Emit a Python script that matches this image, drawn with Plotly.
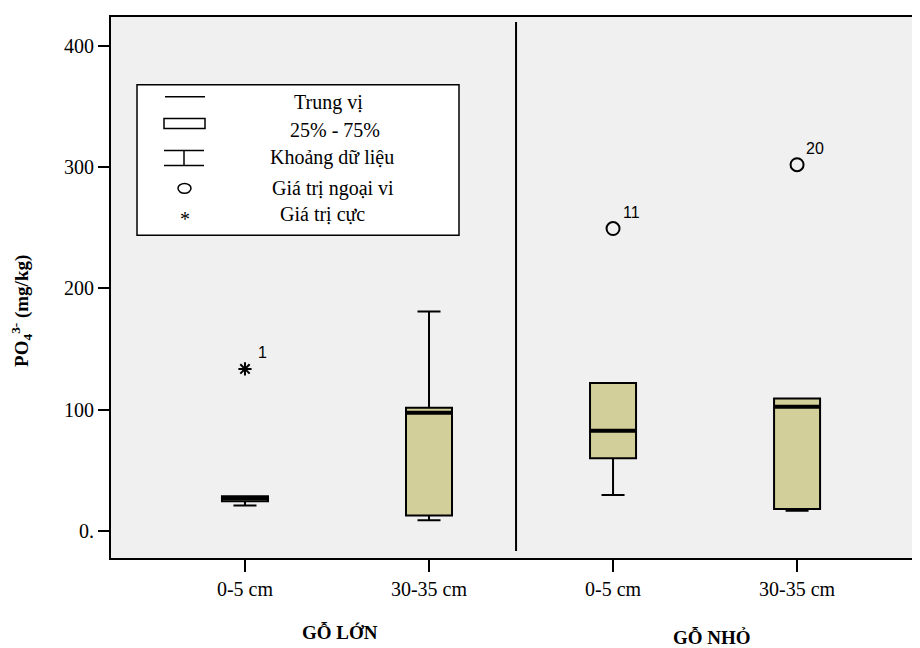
import plotly.graph_objects as go

# ---------------- data ----------------
categories = ["0-5 cm", "30-35 cm", "0-5 cm", "30-35 cm"]
groups = ["GỖ LỚN", "GỖ NHỎ"]
q1 = [24.6, 12.9, 59.9, 18.1]
median = [27.0, 97.5, 82.7, 102.4]
q3 = [28.7, 101.6, 122.1, 109.2]
lower_fence = [21.1, 9.0, 29.8, 16.7]
upper_fence = [28.7, 180.9, 122.1, 109.2]

outlier_idx = [2, 3]
outlier_val = [249.3, 301.9]
outlier_lab = ["11", "20"]

extreme_idx = [0]
extreme_val = [133.6]
extreme_lab = ["1"]

y_tickvals = [0, 100, 200, 300, 400]
y_ticktext = ["0.", "100", "200", "300", "400"]

legend_labels = ["Trung vị", "25% - 75%", "Khoảng dữ liệu", "Giá trị ngoại vi", "Giá trị cực"]

# ---------------- layout helpers ----------------
OFF = 8                      # body margin of the html page
W, H = 920, 640
PLOT_L, PLOT_R, PLOT_T, PLOT_B = 111, 920, 15, 558   # page pixels of plot area
L, T = PLOT_L - OFF, PLOT_T - OFF
R = W - (PLOT_R - OFF)
B = H - (PLOT_B - OFF)
PW, PH = PLOT_R - PLOT_L, PLOT_B - PLOT_T
BOXW = 0.25
SERIF = "Liberation Serif, Times New Roman, serif"
FILL = "#D3CF9A"


def px(xp):
    return (xp - PLOT_L) / PW


def py(yp):
    return (PLOT_B - yp) / PH


xpos = list(range(len(categories)))

fig = go.Figure()

fig.add_trace(go.Box(
    x=xpos, q1=q1, median=median, q3=q3,
    lowerfence=lower_fence, upperfence=upper_fence,
    width=BOXW, whiskerwidth=0.5,
    fillcolor=FILL, line=dict(color="black", width=2),
    boxpoints=False, showlegend=False, hoverinfo="skip",
))

# thick median lines
for i, m in zip(xpos, median):
    fig.add_trace(go.Scatter(
        x=[i - BOXW / 2, i + BOXW / 2], y=[m, m], mode="lines",
        line=dict(color="black", width=4), showlegend=False, hoverinfo="skip",
    ))

fig.add_trace(go.Scatter(
    x=outlier_idx, y=outlier_val, mode="markers",
    marker=dict(symbol="circle-open", size=13, color="black", line=dict(width=2)),
    showlegend=False,
))
fig.add_trace(go.Scatter(
    x=extreme_idx, y=extreme_val, mode="markers",
    marker=dict(symbol="asterisk-open", size=11, color="black", line=dict(width=2)),
    showlegend=False,
))

for xi, yv, lab in zip(outlier_idx + extreme_idx, outlier_val + extreme_val,
                       outlier_lab + extreme_lab):
    fig.add_annotation(x=xi, y=yv, text=lab, showarrow=False, xshift=18, yshift=16,
                       xanchor="center", yanchor="middle",
                       font=dict(family="Liberation Sans, Arial, sans-serif", size=16, color="black"))

shapes = []
# divider between groups
shapes.append(dict(type="line", xref="x", yref="paper", x0=1.473, x1=1.473,
                   y0=py(551), y1=py(20), line=dict(color="black", width=2)))

# legend box
shapes.append(dict(type="rect", xref="paper", yref="paper",
                   x0=px(137), x1=px(459), y0=py(234), y1=py(83),
                   fillcolor="white", line=dict(color="black", width=1.5)))
lk = dict(xref="paper", yref="paper", line=dict(color="black", width=1.5))
shapes.append(dict(type="line", x0=px(165), x1=px(205), y0=py(95), y1=py(95), **lk))
shapes.append(dict(type="rect", x0=px(164), x1=px(205), y0=py(127), y1=py(117), **lk))
shapes.append(dict(type="line", x0=px(164), x1=px(204), y0=py(149), y1=py(149), **lk))
shapes.append(dict(type="line", x0=px(184), x1=px(184), y0=py(164), y1=py(149), **lk))
shapes.append(dict(type="line", x0=px(164), x1=px(204), y0=py(164), y1=py(164), **lk))
shapes.append(dict(type="circle", x0=px(178), x1=px(191), y0=py(192), y1=py(182), **lk))
fig.update_layout(shapes=shapes)

fig.add_annotation(xref="paper", yref="paper", x=px(185), y=py(218), text="*",
                   xanchor="center", yanchor="middle",
                   showarrow=False, font=dict(family=SERIF, size=20, color="black"))

legend_pos = [(292, 101), (288, 128), (268, 156), (270, 187), (278, 213)]
for (lx, ly), lab in zip(legend_pos, legend_labels):
    fig.add_annotation(xref="paper", yref="paper", x=px(lx), y=py(ly), text=lab,
                       xanchor="left", yanchor="middle", showarrow=False,
                       font=dict(family=SERIF, size=20, color="black"))

# group labels
fig.add_annotation(xref="paper", yref="paper", x=px(340), y=py(633), text="<b>" + groups[0] + "</b>",
                   xanchor="center", yanchor="middle",
                   showarrow=False, font=dict(family=SERIF, size=19, color="black"))
fig.add_annotation(xref="paper", yref="paper", x=px(712), y=py(638), text="<b>" + groups[1] + "</b>",
                   xanchor="center", yanchor="middle",
                   showarrow=False, font=dict(family=SERIF, size=19, color="black"))

# y axis title
fig.add_annotation(xref="paper", yref="paper", x=px(22), y=py(310),
                   text="<b>PO<sub>4</sub><sup>3-</sup> (mg/kg)</b>", textangle=-90,
                   xanchor="center", yanchor="middle",
                   showarrow=False, font=dict(family=SERIF, size=19, color="black"))

fig.update_layout(
    width=W, height=H, autosize=False,
    margin=dict(l=L, r=R, t=T, b=B, pad=0),
    paper_bgcolor="white", plot_bgcolor="#F0F0F0",
    showlegend=False,
    xaxis=dict(range=[-0.728, 3.668], tickvals=xpos, ticktext=categories,
               showgrid=False, zeroline=False, showline=True, mirror=True,
               linecolor="black", linewidth=2, ticks="outside", ticklen=12,
               tickwidth=2, tickcolor="black", ticklabelstandoff=0,
               tickfont=dict(family=SERIF, size=20, color="black")),
    yaxis=dict(range=[-22.2, 423.6], tickvals=y_tickvals, ticktext=y_ticktext,
               showgrid=False, zeroline=False, showline=True,
               linecolor="black", linewidth=2, ticks="outside", ticklen=11,
               tickwidth=2, tickcolor="black",
               tickfont=dict(family=SERIF, size=20, color="black")),
)

fig.write_html("out.html")
